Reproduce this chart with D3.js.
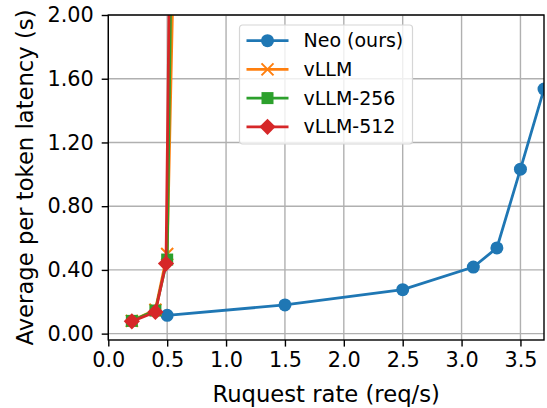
<!DOCTYPE html>
<html>
<head>
<meta charset="utf-8">
<script src="https://cdn.jsdelivr.net/npm/d3@7"></script>
<style>
  body { margin: 0; background: #fff; }
  text { font-family: "DejaVu Sans", sans-serif; fill: #000; }
</style>
</head>
<body>
<svg id="chart" width="547" height="408"></svg>
<script>
// data
const neoX = [0.5, 1.5, 2.5, 3.1, 3.3, 3.5, 3.7];
const neoY = [0.115, 0.18, 0.276, 0.418, 0.538, 1.032, 1.535];
const vllmX = [0.2, 0.4, 0.5, 0.6];
const vllmY = [0.08, 0.15, 0.5, 3.9];
const vllm256X = [0.2, 0.4, 0.5, 0.6];
const vllm256Y = [0.08, 0.145, 0.465, 6.0];
const vllm512X = [0.2, 0.4, 0.49, 0.6];
const vllm512Y = [0.077, 0.136, 0.44, 7.3];
const xTicks = [0, 0.5, 1.0, 1.5, 2.0, 2.5, 3.0, 3.5];
const yTicks = [0, 0.4, 0.8, 1.2, 1.6, 2.0];

const series = [
  {name: "Neo (ours)", xs: neoX, ys: neoY, color: "#1f77b4", marker: "circle"},
  {name: "vLLM", xs: vllmX, ys: vllmY, color: "#ff7f0e", marker: "x"},
  {name: "vLLM-256", xs: vllm256X, ys: vllm256Y, color: "#2ca02c", marker: "square"},
  {name: "vLLM-512", xs: vllm512X, ys: vllm512Y, color: "#d62728", marker: "diamond"}
];

const margin = {top: 15, left: 108.3, right: 3, bottom: 68};
const svg = d3.select("#chart");
const width = 547 - margin.left - margin.right,
      height = 408 - margin.top - margin.bottom;

const x = d3.scaleLinear().domain([0, 3.7]).range([0, width]);
const y = d3.scaleLinear().domain([-0.04, 2.0]).range([height, 0]);

const g = svg.append("g").attr("transform", "translate(" + margin.left + "," + margin.top + ")");

svg.append("defs").append("clipPath").attr("id", "clip")
  .append("rect").attr("width", width).attr("height", height);

// grid
g.append("g").selectAll("line").data(xTicks).enter().append("line")
  .attr("x1", d => x(d)).attr("x2", d => x(d)).attr("y1", 0).attr("y2", height)
  .attr("stroke", "#b0b0b0").attr("stroke-width", 1.4);
g.append("g").selectAll("line").data(yTicks).enter().append("line")
  .attr("y1", d => y(d)).attr("y2", d => y(d)).attr("x1", 0).attr("x2", width)
  .attr("stroke", "#b0b0b0").attr("stroke-width", 1.4);

// axes
const xaxis = g.append("g").attr("transform", "translate(0," + height + ")")
  .call(d3.axisBottom(x).tickValues(xTicks).tickFormat(d3.format(".1f")).tickSize(6.6).tickPadding(6));
const yaxis = g.append("g")
  .call(d3.axisLeft(y).tickValues(yTicks).tickFormat(d3.format(".2f")).tickSize(6.6).tickPadding(8));
[xaxis, yaxis].forEach(a => {
  a.select(".domain").remove();
  a.selectAll("line").attr("stroke", "#000").attr("stroke-width", 1.4);
  a.selectAll("text").style("font-size", "20.8px").style("font-family", "DejaVu Sans");
});

const plot = g.append("g").attr("clip-path", "url(#clip)");
const line = d3.line().x(d => x(d[0])).y(d => y(d[1]));

function drawMarker(sel, type, color, s) {
  if (type === "circle") {
    sel.append("circle").attr("r", s).attr("fill", color);
  } else if (type === "square") {
    sel.append("rect").attr("x", -s).attr("y", -s).attr("width", 2 * s).attr("height", 2 * s).attr("fill", color);
  } else if (type === "diamond") {
    sel.append("path").attr("d", "M0," + (-s * 1.35) + "L" + (s * 1.35) + ",0L0," + (s * 1.35) + "L" + (-s * 1.35) + ",0Z").attr("fill", color);
  } else {
    sel.append("path").attr("d", "M" + (-s) + "," + (-s) + "L" + s + "," + s + "M" + (-s) + "," + s + "L" + s + "," + (-s))
      .attr("stroke", color).attr("stroke-width", 2).attr("fill", "none");
  }
}

series.forEach(s => {
  const pts = s.xs.map((v, i) => [v, s.ys[i]]);
  plot.append("path").datum(pts).attr("d", line)
    .attr("fill", "none").attr("stroke", s.color).attr("stroke-width", 2.8);
  plot.selectAll(null).data(pts).enter().append("g")
    .attr("transform", d => "translate(" + x(d[0]) + "," + y(d[1]) + ")")
    .each(function() { drawMarker(d3.select(this), s.marker, s.color, s.marker === "circle" ? 6.5 : 6); });
});

// frame
g.append("rect").attr("width", width).attr("height", height)
  .attr("fill", "none").attr("stroke", "#000").attr("stroke-width", 1.4);

// legend
const leg = svg.append("g").attr("transform", "translate(239.5,25)");
leg.append("rect").attr("width", 173).attr("height", 119).attr("rx", 3)
  .attr("fill", "#fff").attr("fill-opacity", 0.8).attr("stroke", "#d6d6d6").attr("stroke-width", 1.2);
series.forEach((s, i) => {
  const row = leg.append("g").attr("transform", "translate(0," + (15.7 + i * 28.7) + ")");
  row.append("line").attr("x1", 7).attr("x2", 49).attr("stroke", s.color).attr("stroke-width", 2.8);
  drawMarker(row.append("g").attr("transform", "translate(28,0)"), s.marker, s.color, s.marker === "circle" ? 6.5 : 6);
  row.append("text").attr("x", 64).attr("dy", "0.35em").style("font-size", "19px").text(s.name);
});

// axis labels
svg.append("text").attr("x", margin.left + width / 2).attr("y", 402)
  .attr("text-anchor", "middle").style("font-size", "22.7px").text("Ruquest rate (req/s)");
svg.append("text").attr("transform", "translate(33," + (margin.top + height / 2) + ") rotate(-90)")
  .attr("text-anchor", "middle").style("font-size", "22.7px").text("Average per token latency (s)");
</script>
</body>
</html>
